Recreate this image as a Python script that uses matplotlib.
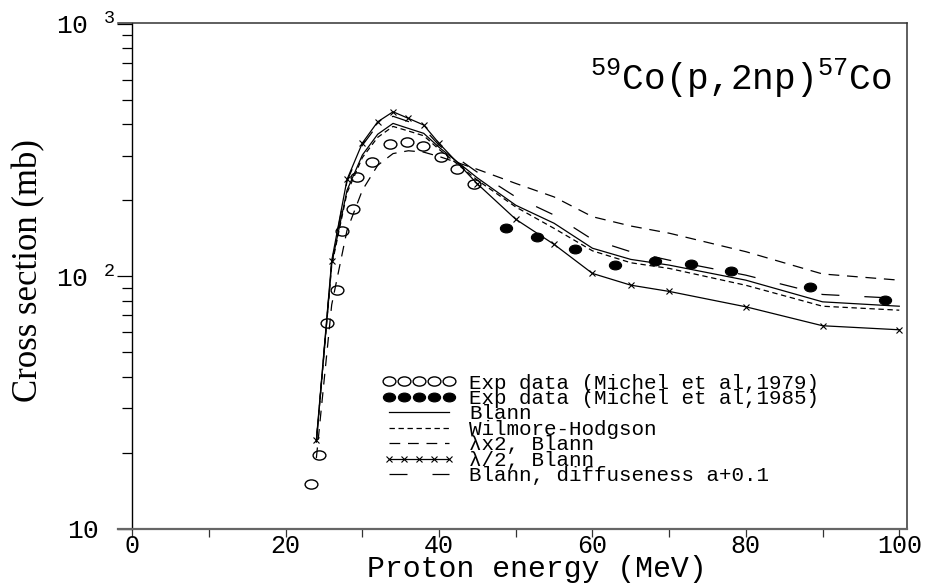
import numpy as np
import matplotlib
matplotlib.use("Agg")
import matplotlib.pyplot as plt
from matplotlib.path import Path
from matplotlib.transforms import Affine2D, ScaledTranslation
from matplotlib.ticker import FixedLocator, FixedFormatter, LogLocator, NullFormatter

# ---- data -------------------------------------------------------------
# experimental points
e_exp_1979 = [23.3, 24.3, 25.35, 26.65, 27.3, 28.8, 29.3, 31.3, 33.6, 35.8, 37.9, 40.2, 42.3, 44.5]
xs_exp_1979 = [15.0, 19.5, 65.0, 88.5, 151, 185, 246, 284, 333, 341, 327, 297, 265, 231]

e_exp_1985 = [48.7, 52.8, 57.7, 63.0, 68.15, 72.9, 78.1, 88.4, 98.2]
xs_exp_1985 = [155, 143, 127.6, 110.6, 115, 111.5, 104.7, 90.7, 80.3]

# model calculations
e_model = [24, 26, 28, 30, 32, 34, 36, 38, 40, 45, 50, 55, 60, 65, 70, 80, 90, 100]
xs_blann = [22, 112, 219, 302, 365, 403, 385, 368, 324, 245, 191, 162, 129, 116.5, 110.6, 96.4, 79.1, 76.0]
xs_wilmore = [22, 110, 214, 295, 355, 392, 376, 360, 318, 240, 188, 154.6, 126, 113, 107.3, 92, 76, 73.3]
xs_lam_x2 = [19, 77, 152, 219, 275, 306, 314, 310, 298, 265, 233, 206, 172, 158, 148, 125, 102, 96.4]
xs_lam_half = [22.4, 115, 241.6, 337, 409, 448, 422, 397, 336, 232, 168, 133.6, 102.5, 92.1, 87.0, 75.6, 63.6, 61.3]
xs_diffuse = [22, 113, 238, 330, 398, 430, 410, 385, 330, 258, 206, 174.6, 139.7, 124.9, 115.7, 100.9, 84.6, 81.6]

series_labels = [
    "Exp data (Michel et al,1979)",
    "Exp data (Michel et al,1985)",
    "Blann",
    "Wilmore-Hodgson",
    "λx2, Blann",
    "λ/2, Blann",
    "Blann, diffuseness a+0.1",
]

x_major = [0, 20, 40, 60, 80, 100]
x_minor = [10, 30, 50, 70, 90]
x_tick_labels = ["0", "20", "40", "60", "80", "100"]
y_major = [10, 100, 1000]
y_tick_labels = ["10", "10 $^{2}$", "10 $^{3}$"]

reaction = "$^{59}$Co(p,2np)$^{57}$Co"
x_title = "Proton energy (MeV)"
y_title = "Cross section (mb)"

# ---- style ------------------------------------------------------------
plt.rcParams["font.family"] = ["Liberation Mono", "DejaVu Sans Mono"]
plt.rcParams["mathtext.fontset"] = "custom"
plt.rcParams["mathtext.rm"] = "Liberation Mono"
plt.rcParams["mathtext.it"] = "Liberation Mono"

ellipse = Path.unit_circle().transformed(Affine2D().scale(1.0, 0.72))

fig = plt.figure(figsize=(9.27, 5.86), dpi=100)
ax = fig.add_axes([0.12697, 0.09812, 0.85113, 0.86314])
ax.set_yscale("log")
ax.set_xlim(-1.9, 100.97)
ax.set_ylim(10, 1010)

lw = 0.9
ax.plot(e_exp_1979, xs_exp_1979, linestyle="none", marker=ellipse, markersize=9.2,
        markerfacecolor="none", markeredgecolor="black", markeredgewidth=1.0,
        label=series_labels[0])
ax.plot(e_exp_1985, xs_exp_1985, linestyle="none", marker=ellipse, markersize=8.8,
        markerfacecolor="black", markeredgecolor="black", markeredgewidth=0.8,
        label=series_labels[1])
ax.plot(e_model, xs_blann, color="black", lw=lw, linestyle="-", label=series_labels[2])
ax.plot(e_model, xs_wilmore, color="black", lw=lw, linestyle=(0, (4.3, 2.9)),
        label=series_labels[3])
ax.plot(e_model, xs_lam_x2, color="black", lw=lw, linestyle=(0, (8.6, 6.2)),
        label=series_labels[4])
ax.plot(e_model, xs_lam_half, color="black", lw=lw, linestyle="-", marker="x",
        markersize=4.2, markeredgewidth=0.8, label=series_labels[5])
ax.plot(e_model, xs_diffuse, color="black", lw=lw, linestyle=(0, (14.4, 20.0)),
        label=series_labels[6])

# ---- axes frame -------------------------------------------------------
ax.spines["left"].set_position(("data", 0))
ax.spines["left"].set_linewidth(1.0)
ax.spines["left"].set_color("black")
ax.spines["top"].set_linewidth(1.1)
ax.spines["top"].set_color("#333333")
ax.spines["right"].set_linewidth(1.1)
ax.spines["right"].set_color("#333333")
ax.spines["bottom"].set_linewidth(1.6)
ax.spines["bottom"].set_color("#666666")

ax.xaxis.set_major_locator(FixedLocator(x_major))
ax.xaxis.set_minor_locator(FixedLocator(x_minor))
ax.xaxis.set_major_formatter(FixedFormatter(x_tick_labels))
ax.tick_params(axis="x", which="both", direction="out", length=5.5, width=0.9,
               color="#333333", top=False, pad=-1.5, labelsize=18)

ax.yaxis.set_major_locator(FixedLocator(y_major))
ax.yaxis.set_major_formatter(FixedFormatter(y_tick_labels))
ax.yaxis.set_minor_locator(LogLocator(base=10, subs=np.arange(2, 10), numticks=20))
ax.yaxis.set_minor_formatter(NullFormatter())
ax.tick_params(axis="y", which="major", direction="out", length=10.8, width=0.9,
               right=False, pad=1.5, labelsize=19)
ax.tick_params(axis="y", which="minor", direction="out", length=7.2, width=0.9,
               right=False)

# the plain "10" at the bottom sits a little left of the tick, like the others
bottom_tick = ax.yaxis.get_major_ticks()[0]
bottom_tick.label1.set_transform(
    bottom_tick.label1.get_transform()
    + ScaledTranslation(-16 / 100, 0, fig.dpi_scale_trans))

ax.set_xlabel(x_title, fontsize=21.5)
ax.xaxis.set_label_coords(0.531, -0.0524)
ax.set_ylabel(y_title, fontsize=25, family=["Liberation Serif", "DejaVu Serif"])
ax.yaxis.set_label_coords(-0.092, 0.51)

ax.text(0.981, 0.867, reaction, transform=ax.transAxes, ha="right", va="baseline",
        fontsize=26)

ax.legend(loc="upper left", bbox_to_anchor=(0.3362, 0.3064), frameon=False,
          fontsize=15, handlelength=3.45, handletextpad=0.68, labelspacing=-0.17,
          borderpad=0, borderaxespad=0, numpoints=5)

fig.savefig("out.png", dpi=100)
